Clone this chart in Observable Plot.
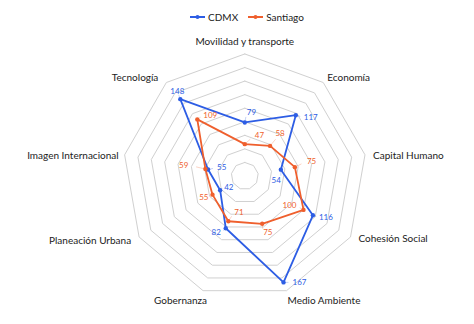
<!DOCTYPE html>
<html><head><meta charset="utf-8">
<script src="https://cdn.jsdelivr.net/npm/d3@7"></script>
<script src="https://cdn.jsdelivr.net/npm/@observablehq/plot@0.6"></script>
<style>
html,body{margin:0;padding:0;background:#fff;}
body{width:474px;height:324px;overflow:hidden;font-family:Lato,"Open Sans",sans-serif;}
#legend{height:30px;display:flex;justify-content:center;align-items:center;gap:10px;font-size:10px;color:#222;padding-left:20px;box-sizing:border-box;padding-top:4px;}
#legend .item{display:flex;align-items:center;gap:3px;}
</style></head><body>
<div id="legend"></div>
<div id="chart"></div>
<script>
// ---- data ----
const axes = ["Movilidad y transporte","Economía","Capital Humano","Cohesión Social","Medio Ambiente","Gobernanza","Planeación Urbana","Imagen Internacional","Tecnología"];
const cdmx = [79,117,54,116,167,82,42,55,148];
const santiago = [47,58,75,100,75,71,55,59,109];
const seriesNames = ["CDMX","Santiago"];
const ringTicks = [20,40,60,80,100,120,140,160,180];

// ---- layout ----
const W = 474, H = 294;
const CX = 244.3, CY = 145.5, K = 0.678; // px per unit
const colors = {CDMX:"#2d5de4", Santiago:"#ef5f2d"};
// label offsets in px [dx, dy, anchor]
const labelOff = {
  CDMX: [[2,-10,"start"],[8,2,"start"],[0,11,"end"],[6,2,"start"],[9,0,"start"],[-5,4,"end"],[4,-3,"start"],[9,-2,"start"],[-3,-8,"middle"]],
  Santiago: [[10,-9,"start"],[10,-12,"middle"],[12,-6,"start"],[-7,-4,"end"],[1,9,"start"],[6,-9,"start"],[-4,3,"end"],[-17,-4,"end"],[6,-4,"start"]]
};
const axisOff = [[0,-12,"middle"],[4,-5,"start"],[8,1,"start"],[8,2,"start"],[1,10,"start"],[4,10,"end"],[-8,4,"end"],[-6,1,"end"],[-8,-5,"end"]];

const n = axes.length;
const ang = i => i * 2 * Math.PI / n;
const px = (v, i) => v * Math.sin(ang(i));
const py = (v, i) => v * Math.cos(ang(i));

// rings
const rings = [];
for (const r of ringTicks) for (let i = 0; i <= n; i++) rings.push({r, x: px(r, i % n), y: py(r, i % n)});

// series
const seriesVals = {CDMX: cdmx, Santiago: santiago};
const pts = [], loops = [];
for (const s of seriesNames) {
  seriesVals[s].forEach((v, i) => {
    const [dx, dy, anchor] = labelOff[s][i];
    const x = px(v, i), y = py(v, i);
    pts.push({s, v, i, x, y, lx: x + dx / K, ly: y - dy / K, anchor,
      kx: x + 0.55 * dx / K, ky: y - 0.55 * dy / K});
  });
  for (let i = 0; i <= n; i++) loops.push({s, x: px(seriesVals[s][i % n], i % n), y: py(seriesVals[s][i % n], i % n)});
}
const outer = ringTicks[ringTicks.length - 1];
const axisLabels = axes.map((a, i) => {
  const [dx, dy, anchor] = axisOff[i];
  return {a, anchor, x: px(outer, i) + dx / K, y: py(outer, i) - dy / K};
});

const textMarks = (data, opts) => ["start","middle","end"].map(t =>
  Plot.text(data.filter(d => d.anchor === t), {...opts, textAnchor: t}));

const chart = Plot.plot({
  width: W, height: H,
  margin: 0,
  x: {domain: [-CX / K, (W - CX) / K], axis: null},
  y: {domain: [-(H - CY) / K, CY / K], axis: null},
  style: {fontFamily: "Lato, 'Open Sans', sans-serif", background: "#fff"},
  marks: [
    Plot.line(rings, {x: "x", y: "y", z: "r", stroke: "#d0d0d0", strokeWidth: 1}),
    Plot.link(pts, {x1: "x", y1: "y", x2: "kx", y2: "ky", stroke: d => colors[d.s], strokeOpacity: 0.35, strokeWidth: 0.8}),
    Plot.line(loops, {x: "x", y: "y", z: "s", stroke: d => colors[d.s], strokeWidth: 1.8, curve: "linear"}),
    Plot.dot(pts, {x: "x", y: "y", r: 2.2, fill: d => colors[d.s], stroke: "none"}),
    ...textMarks(pts, {x: "lx", y: "ly", text: d => String(d.v), fill: d => colors[d.s], fontSize: 8, lineAnchor: "middle"}),
    ...textMarks(axisLabels, {x: "x", y: "y", text: "a", fill: "#222", fontSize: 10, lineAnchor: "middle"})
  ]
});
document.getElementById("chart").appendChild(chart);

// legend
const leg = document.getElementById("legend");
for (const s of seriesNames) {
  const it = document.createElement("div");
  it.className = "item";
  it.innerHTML = `<svg width="15" height="6"><line x1="0" y1="3" x2="15" y2="3" stroke="${colors[s]}" stroke-width="2"/><circle cx="7.5" cy="3" r="2" fill="${colors[s]}"/></svg><span>${s}</span>`;
  leg.appendChild(it);
}
</script>
</body></html>
